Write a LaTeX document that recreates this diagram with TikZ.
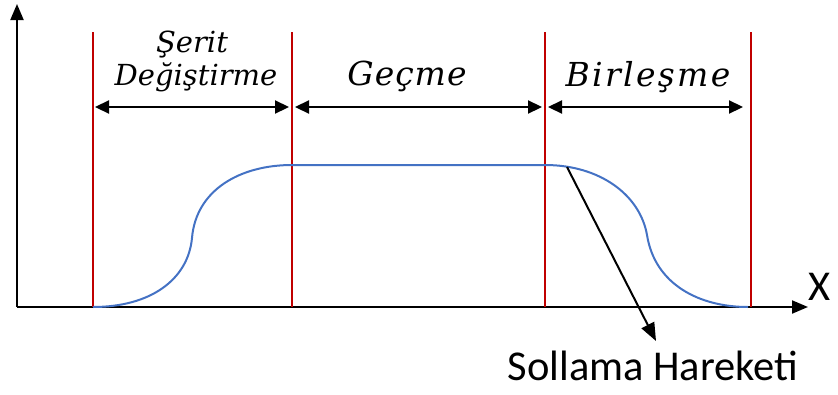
\documentclass[tikz,border=0pt]{standalone}
\usepackage{fontspec}
\newfontfamily\calibri{Carlito}
\newfontfamily\phasefont[LetterSpace=3]{DejaVu Serif}
\newfontfamily\phasefontw[LetterSpace=7]{DejaVu Serif}
\newfontfamily\phasefontb{DejaVu Serif}
\usetikzlibrary{arrows.meta}
\definecolor{redline}{HTML}{C00000}
\definecolor{curveblue}{HTML}{4472C4}
\tikzset{
  axis/.style={line width=2pt, -{Triangle[length=16pt,width=13pt]}},
  bound/.style={draw=redline, line width=2pt},
  span/.style={line width=2.2pt, {Triangle[length=14pt,width=13pt]}-{Triangle[length=14pt,width=13pt]}},
  phase/.style={font=\phasefont\fontsize{33}{33}\selectfont\itshape, inner sep=0pt, anchor=base},
  phasewide/.style={font=\phasefontw\fontsize{33}{33}\selectfont\itshape, inner sep=0pt, anchor=base},
  phasesmall/.style={font=\phasefontb\fontsize{29}{29}\selectfont\itshape, inner sep=0pt, anchor=base},
  traj/.style={draw=curveblue, line width=2pt},
  sanslabel/.style={font=\calibri\fontsize{42.5}{44}\selectfont, inner sep=0pt, anchor=base},
}
\begin{document}
\begin{tikzpicture}[x=1pt,y=-1pt]
\useasboundingbox (0,0) rectangle (838,394);
% axes
\coordinate (O) at (17,307);
\coordinate (Ytop) at (17,4);
\coordinate (Xend) at (808,307);
\draw[axis] (O) -- (Ytop);
\draw[axis] (O) -- (Xend);
\node[sanslabel] (xlab) at (820,300) {X};
% red boundary lines
\coordinate (a0) at (93,32);  \coordinate (a1) at (93,307);
\coordinate (b0) at (292,32); \coordinate (b1) at (292,307);
\coordinate (c0) at (545,32); \coordinate (c1) at (545,307);
\coordinate (d0) at (751,32); \coordinate (d1) at (751,307);
\draw[bound] (a0) -- (a1);
\draw[bound] (b0) -- (b1);
\draw[bound] (c0) -- (c1);
\draw[bound] (d0) -- (d1);
% span arrows
\coordinate (s1l) at (95,107);  \coordinate (s1r) at (289,107);
\coordinate (s2l) at (295,107); \coordinate (s2r) at (542,107);
\coordinate (s3l) at (548,107); \coordinate (s3r) at (743,107);
\draw[span] (s1l) -- (s1r);
\draw[span] (s2l) -- (s2r);
\draw[span] (s3l) -- (s3r);
% labels
\node[phasesmall] (serit) at (192,52) {Şerit};
\node[phasesmall] (degis) at (196,85) {Değiştirme};
\node[phase] (gecme) at (407,85) {Geçme};
\node[phasewide] (birlesme) at (648,86) {Birleşme};
% trajectory
\draw[traj] (93,307) .. controls (150,307) and (188,280) .. (192,238)
  .. controls (196,190) and (240,165) .. (292,165) -- (545,165)
  .. controls (600,165) and (640,195) .. (647,235)
  .. controls (655,285) and (700,307) .. (748,307);
% annotation
\coordinate (p) at (567,167);
\node[sanslabel] (soll) at (653,380) {Sollama Hareketi};
\coordinate (tip) at (656,341);
\draw[line width=2pt, -{Triangle[length=18pt,width=14pt]}] (p) -- (tip);
\end{tikzpicture}
\end{document}
